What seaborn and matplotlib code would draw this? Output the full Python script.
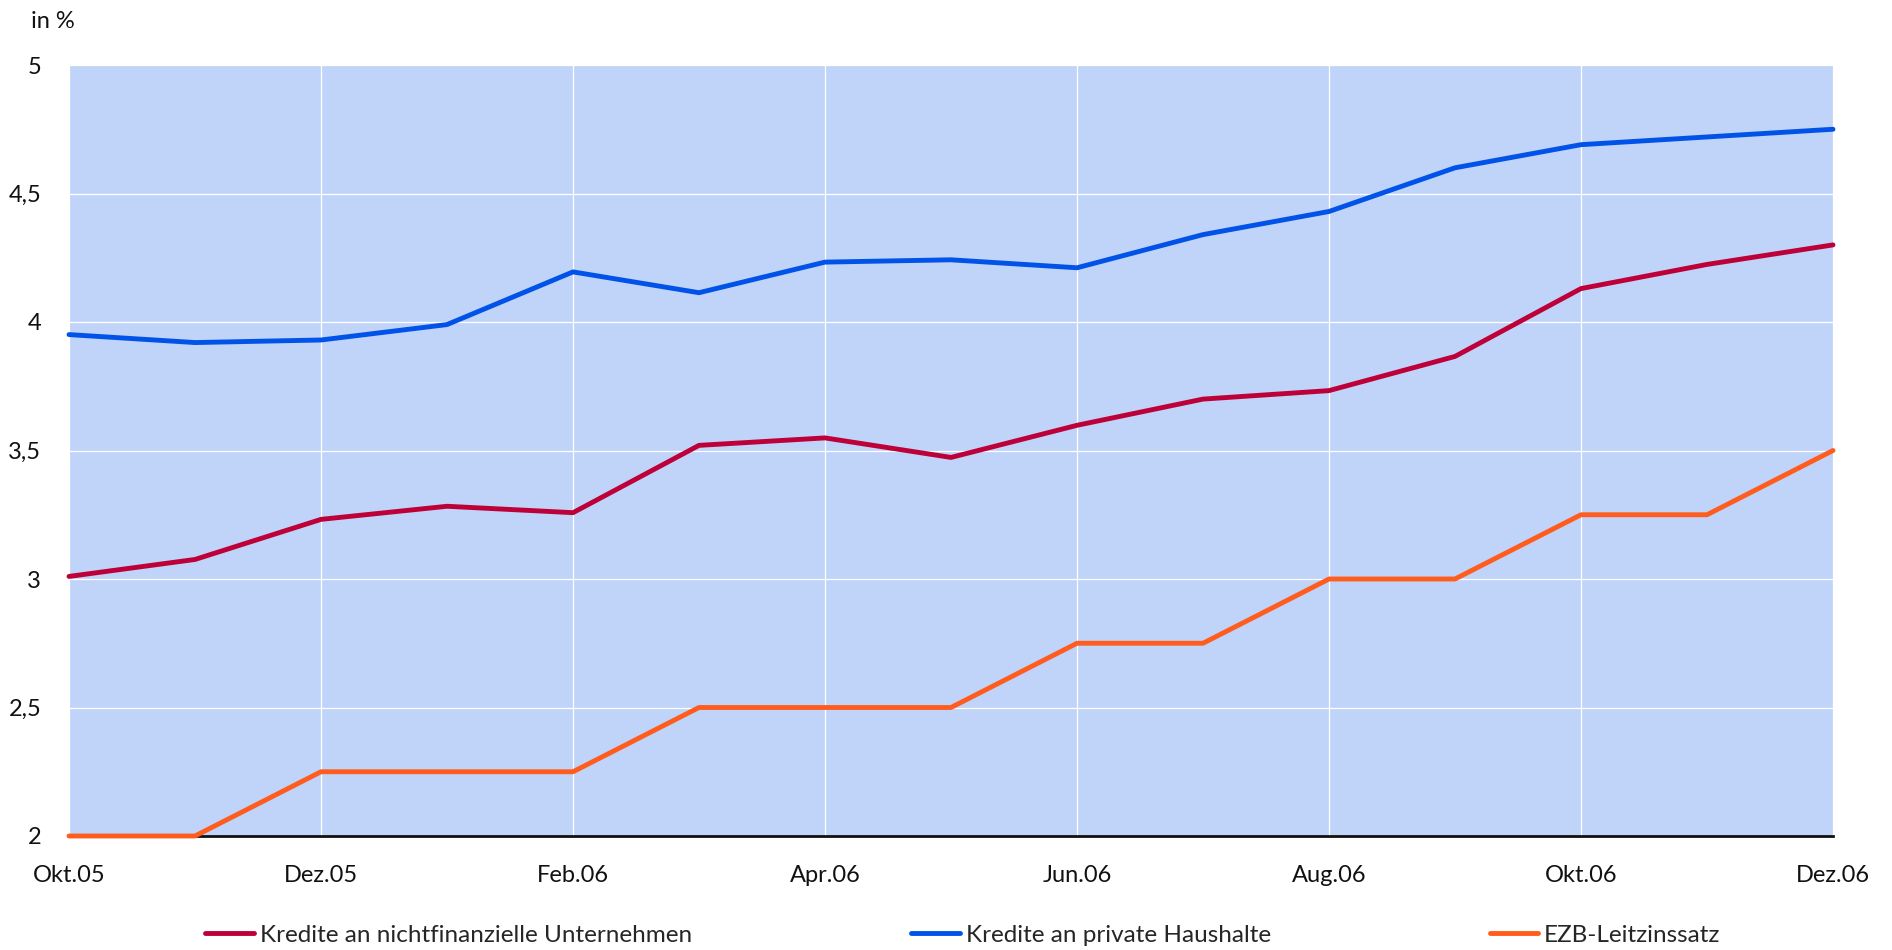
import matplotlib
matplotlib.use("Agg")
import matplotlib.pyplot as plt
import seaborn as sns
import pandas as pd
import numpy as np

months = ["Okt.05", "Nov.05", "Dez.05", "Jan.06", "Feb.06", "Mär.06", "Apr.06",
          "Mai.06", "Jun.06", "Jul.06", "Aug.06", "Sep.06", "Okt.06", "Nov.06", "Dez.06"]
unternehmen = [3.01, 3.076, 3.232, 3.283, 3.258, 3.52, 3.549, 3.473, 3.598, 3.70,
               3.733, 3.866, 4.13, 4.224, 4.30]
haushalte = [3.951, 3.92, 3.93, 3.99, 4.195, 4.114, 4.233, 4.242, 4.211, 4.34,
             4.43, 4.60, 4.69, 4.72, 4.75]
ezb = [2.0, 2.0, 2.25, 2.25, 2.25, 2.5, 2.5, 2.5, 2.75, 2.75, 3.0, 3.0, 3.25, 3.25, 3.5]
series_names = ["Kredite an nichtfinanzielle Unternehmen", "Kredite an private Haushalte",
                "EZB-Leitzinssatz"]
yticks = [2, 2.5, 3, 3.5, 4, 4.5, 5]
ytick_labels = ["2", "2,5", "3", "3,5", "4", "4,5", "5"]

colors = ["#BE0038", "#0052E8", "#FF5C1E"]

sns.set_theme(style="white")
plt.rcParams["font.family"] = ["Lato", "DejaVu Sans"]

idx = np.arange(len(months))
df = pd.concat([
    pd.DataFrame({"t": idx, "wert": vals, "Serie": name})
    for name, vals in zip(series_names, [unternehmen, haushalte, ezb])
])

fig = plt.figure(figsize=(18.92, 9.5), dpi=100)
ax = fig.add_axes([69 / 1892, 1 - 836 / 950, (1833 - 69) / 1892, (836 - 65) / 950])
ax.set_facecolor("#C0D3F8")

sns.lineplot(data=df, x="t", y="wert", hue="Serie", palette=colors, hue_order=series_names,
             linewidth=3.5, ax=ax, legend=False, zorder=3)
for l in ax.lines:
    l.set_solid_capstyle("round")
    l.set_clip_on(False)

ax.set_xlim(0, len(months) - 1)
ax.set_ylim(2, 5)
ax.set_xticks(idx[::2])
ax.set_xticklabels(months[::2], fontsize=17, color="#111111")
ax.set_yticks(yticks)
ax.set_yticklabels(ytick_labels, fontsize=17, color="#111111")
ax.tick_params(axis="x", length=0, pad=21)
ax.tick_params(axis="y", length=0, pad=20)
ax.grid(True, color="white", linewidth=0.9)
ax.set_axisbelow(True)
for s in ["top", "right", "left"]:
    ax.spines[s].set_visible(False)
ax.spines["bottom"].set_color("#111111")
ax.spines["bottom"].set_linewidth(2)
ax.spines["bottom"].set_zorder(2)
ax.set_xlabel("")
ax.set_ylabel("")

fig.text(31 / 1892, 1 - 21 / 950, "in %", fontsize=17, color="#111111", va="center", ha="left")

handles = [plt.Line2D([], [], color=c, linewidth=3.5, solid_capstyle="round") for c in colors]
fig.legend(handles, series_names, loc="center", bbox_to_anchor=(963 / 1892, 1 - 935 / 950),
           ncol=3, frameon=False, fontsize=17.5, handlelength=2.0, handletextpad=0.25,
           columnspacing=9.0, borderpad=0, borderaxespad=0)

fig.savefig("out.png", dpi=100)
